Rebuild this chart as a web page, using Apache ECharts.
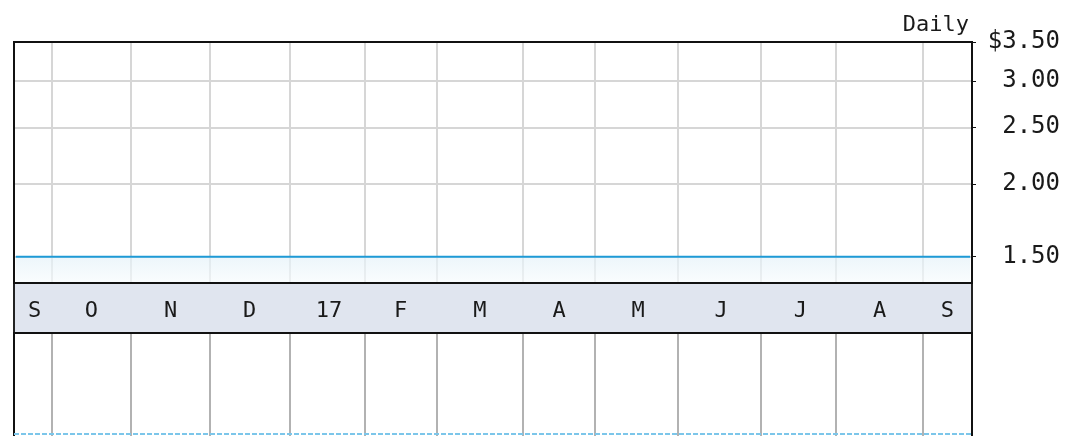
<!DOCTYPE html>
<html>
<head>
<meta charset="utf-8">
<script src="https://cdn.jsdelivr.net/npm/echarts@6/dist/echarts.min.js"></script>
<style>
html, body { margin: 0; padding: 0; background: #fff; }
#chart { width: 1067px; height: 436px; }
</style>
</head>
<body>
<div id="chart"></div>
<script>
// months on the x axis and the letter printed under each
var months = ['2016-09', '2016-10', '2016-11', '2016-12', '2017-01', '2017-02', '2017-03',
              '2017-04', '2017-05', '2017-06', '2017-07', '2017-08', '2017-09'];
var monthLabels = ['S', 'O', 'N', 'D', '17', 'F', 'M', 'A', 'M', 'J', 'J', 'A', 'S'];
// trading days shown in each month (x axis is one slot per trading day)
var tradingDays = [10, 21, 21, 21, 20, 19, 23, 19, 22, 22, 20, 23, 13];
// daily close, flat within each month
var monthClose = [1.50, 1.50, 1.50, 1.50, 1.50, 1.50, 1.50, 1.50, 1.50, 1.50, 1.50, 1.50, 1.50];
// price axis (log scale)
var priceTicks = [1.50, 2.00, 2.50, 3.00, 3.50];
var priceMin = 1.352;
var priceMax = 3.50;
// dashed level in the lower panel
var lowerLevel = 4.5;

var font = 'DejaVu Sans Mono';

var days = [];
var closes = [];
var monthStart = {};
var monthMid = {};
var idx = 0;
for (var m = 0; m < months.length; m++) {
    for (var d = 0; d < tradingDays[m]; d++) {
        var name = months[m] + ' #' + (d + 1);
        days.push(name);
        closes.push(monthClose[m]);
        if (d == 0 && idx > 0) monthStart[idx] = true;
        if (d == Math.floor(tradingDays[m] / 2)) monthMid[idx] = monthLabels[m];
        idx++;
    }
}

function isMonthStart(index) { return monthStart[index] === true; }
function isMonthMid(index) { return monthMid[index] !== undefined; }

function baseX(grid, lineColor) {
    return {
        gridIndex: grid,
        type: 'category',
        data: days,
        boundaryGap: true,
        axisLine: { show: false },
        axisTick: { show: false },
        axisLabel: { show: false },
        splitLine: {
            show: lineColor != null,
            interval: isMonthStart,
            lineStyle: { color: lineColor, width: 2 }
        }
    };
}

var bandX = baseX(1, null);
bandX.axisLabel = {
    show: true,
    inside: true,
    margin: 22,
    verticalAlign: 'middle',
    interval: isMonthMid,
    fontFamily: font,
    fontSize: 22,
    color: '#1a1a1a',
    formatter: function (value, index) {
        return monthMid[index] || '';
    }
};

var myChart = echarts.init(document.getElementById('chart'));
var option = {
    animation: false,
    title: {
        text: 'Daily',
        right: 93,
        top: 9,
        textStyle: { fontFamily: font, fontSize: 22, fontWeight: 'normal', color: '#1a1a1a' }
    },
    grid: [
        // borders of the price and lower panels sit above the grid lines
        { left: 14, top: 42, width: 958, height: 241, outerBoundsMode: 'none', show: true, z: 5, borderColor: '#111', borderWidth: 2, backgroundColor: 'transparent' },
        { left: 14, top: 283, width: 958, height: 50, outerBoundsMode: 'none', show: true, borderColor: '#222', borderWidth: 2, backgroundColor: '#e0e5ef' },
        // lower panel runs past the bottom edge of the picture
        { left: 14, top: 333, width: 958, height: 106, outerBoundsMode: 'none', show: true, z: 5, borderColor: '#111', borderWidth: 2, backgroundColor: 'transparent' }
    ],
    xAxis: [
        baseX(0, '#d6d6d6'),
        bandX,
        baseX(2, '#b2b2b2')
    ],
    yAxis: [
        {
            gridIndex: 0,
            type: 'log',
            position: 'right',
            min: priceMin,
            max: priceMax,
            axisLine: { show: false },
            axisTick: { show: true, length: 4, customValues: priceTicks, lineStyle: { color: '#111', width: 1 } },
            axisLabel: {
                customValues: priceTicks,
                align: 'right',
                margin: 88,
                fontFamily: font,
                fontSize: 24,
                color: '#1a1a1a',
                formatter: function (v) {
                    var s = Number(v).toFixed(2);
                    return Math.abs(v - priceMax) < 1e-6 ? '$' + s : s;
                }
            },
            splitLine: { show: true, lineStyle: { color: '#d6d6d6', width: 2 } }
        },
        { gridIndex: 1, type: 'value', show: false },
        { gridIndex: 2, type: 'value', min: 0, max: 100, show: false }
    ],
    series: [
        {
            name: 'Close',
            type: 'line',
            xAxisIndex: 0,
            yAxisIndex: 0,
            data: closes,
            symbol: 'none',
            lineStyle: { color: '#1e9ad6', width: 2 },
            areaStyle: {
                origin: 'start',
                color: new echarts.graphic.LinearGradient(0, 0, 0, 1, [
                    { offset: 0, color: '#e4f1f8' },
                    { offset: 1, color: '#f7fbfd' }
                ])
            }
        },
        {
            name: 'Lower',
            type: 'line',
            xAxisIndex: 2,
            yAxisIndex: 2,
            data: [],
            markLine: {
                silent: true,
                symbol: 'none',
                label: { show: false },
                lineStyle: { color: '#7cc6ea', width: 2, type: [5, 2] },
                data: [{ yAxis: lowerLevel }]
            }
        }
    ]
};
myChart.setOption(option);
window.onresize = function () {
    myChart.resize();
};
</script>
</body>
</html>
